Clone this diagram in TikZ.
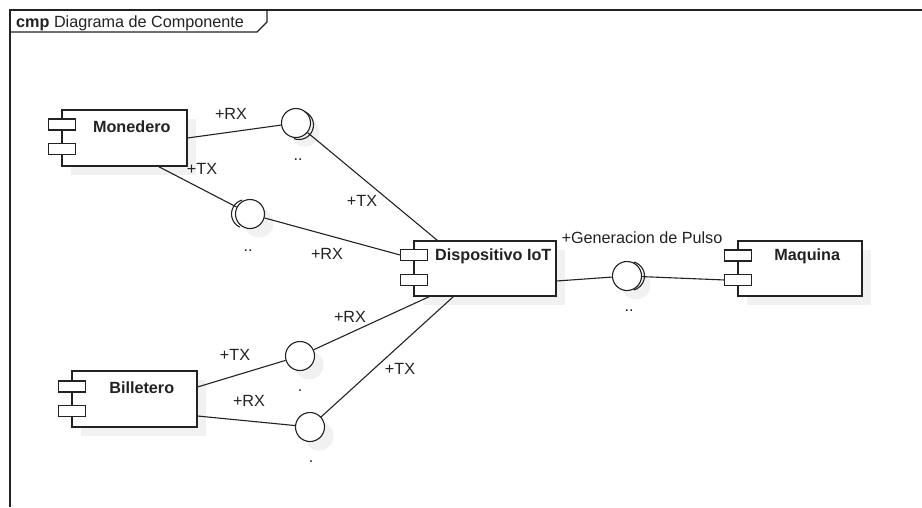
\documentclass[tikz,border=0pt]{standalone}
\usepackage{fontspec}
\setmainfont{Liberation Sans}
\usetikzlibrary{shadows,calc}
\definecolor{shade}{RGB}{241,241,241}
\definecolor{ink}{RGB}{34,34,34}

\begin{document}
\begin{tikzpicture}[x=1pt,y=-1pt,
  every node/.style={font=\fontsize{16.2}{19}\selectfont, inner sep=0pt, text=ink},
  comp/.style={rectangle, draw=ink, fill=white, line width=1.1pt,
    drop shadow={shadow xshift=9pt, shadow yshift=-9pt, fill=shade, opacity=1}},
  port/.style={rectangle, draw=ink, fill=white, line width=1.1pt,
    minimum width=27pt, minimum height=11pt},
  title/.style={font=\fontsize{16.2}{19}\selectfont\bfseries},
  ball/.style={circle, draw=ink, fill=white, line width=1.1pt, minimum size=29pt,
    drop shadow={shadow xshift=9pt, shadow yshift=-9pt, fill=shade, opacity=1}},
  link/.style={draw=ink, line width=1.1pt},
]
\useasboundingbox (0,0) rectangle (922,507);

% diagram frame with its name tab
\draw[link] (922,10) -- (10,10) -- (10,507);
\draw[link] (10,32) -- (257,32) -- (267,22) -- (267,10);
\node[anchor=base west] (frame-name) at (16,27) {\textbf{cmp} Diagrama de Componente};

% components
\node[comp, minimum width=125pt, minimum height=56pt] (mon) at (124.5,138) {};
\node[port] (mon-p1) at ($(mon.north west)+(0.5,15)$) {};
\node[port] (mon-p2) at ($(mon.north west)+(0.5,39.5)$) {};
\node[title] (mon-t) at ($(mon.north east)!0.5!(mon-p1.east |- mon.north)+(0,17)$) {Monedero};

\node[comp, minimum width=142pt, minimum height=55pt] (dev) at (485,268.5) {};
\node[port] (dev-p1) at ($(dev.north west)+(0.5,14.5)$) {};
\node[port] (dev-p2) at ($(dev.north west)+(0.5,39.5)$) {};
\node[title] (dev-t) at ($(dev.north east)!0.5!(dev-p1.east |- dev.north)+(1,16)$) {Dispositivo IoT};

\node[comp, minimum width=124pt, minimum height=55pt] (maq) at (800,268.5) {};
\node[port] (maq-p1) at ($(maq.north west)+(0.5,15)$) {};
\node[port] (maq-p2) at ($(maq.north west)+(0.5,39.5)$) {};
\node[title] (maq-t) at ($(maq.north east)!0.5!(maq-p1.east |- maq.north)+(0,16)$) {Maquina};

\node[comp, minimum width=125pt, minimum height=56pt] (bil) at (134.5,399) {};
\node[port] (bil-p1) at ($(bil.north west)+(0.5,16)$) {};
\node[port] (bil-p2) at ($(bil.north west)+(0.5,40.5)$) {};
\node[title] (bil-t) at ($(bil.north east)!0.5!(bil-p1.east |- bil.north)+(0,17)$) {Billetero};

% interfaces
\node[ball] (i1) at (296,123) {};
\node[ball] (i2) at (250,214) {};
\node[ball] (i3) at (627,276) {};
\node[ball] (i4) at (300,356) {};
\node[ball] (i5) at (310,427) {};

% socket arcs of the assembled interfaces
\draw[link] ($(i1.center)+(3,2)$) ++(70:14.5pt) arc[start angle=70, end angle=-110, radius=14.5pt];
\draw[link] ($(i2.center)+(-4,0)$) ++(105:14.5pt) arc[start angle=105, end angle=245, radius=14.5pt];
\draw[link] ($(i3.center)+(3,0)$) ++(75:14.5pt) arc[start angle=75, end angle=-75, radius=14.5pt];

% interface names
\node[anchor=base] (i1-n) at (298,160) {..};
\node[anchor=base] (i2-n) at (248,251) {..};
\node[anchor=base] (i3-n) at (629,311) {..};
\node[anchor=base] (i4-n) at (300,391) {.};
\node[anchor=base] (i5-n) at (311,462) {.};

% connectors
\draw[link] (mon.east) -- (i1);
\draw[link] ($(mon.south east)+(-29,0)$) -- (i2);
\draw[link] (i1) -- ($(dev.north west)+(24,0)$);
\draw[link] (i2) -- (dev-p1.west);
\draw[link] ($(dev.east)+(0,12.5)$) -- (i3);
\draw[link] (i3) -- (maq-p2.west);
\draw[link] ($(bil.east)+(0,-12)$) -- (i4);
\draw[link] ($(bil.east)+(0,17)$) -- (i5);
\draw[link] (i4) -- ($(dev.south west)+(16,0)$);
\draw[link] (i5) -- ($(dev.south west)+(40,0)$);

% port labels
\node (l1) at (231,114) {+RX};
\node (l2) at (202,169) {+TX};
\node (l3) at (362,201) {+TX};
\node (l4) at (327,254) {+RX};
\node (l5) at (642,238) {+Generacion de Pulso};
\node (l6) at (350,317) {+RX};
\node (l7) at (400,369) {+TX};
\node (l8) at (235,355) {+TX};
\node (l9) at (249,401) {+RX};
\end{tikzpicture}
\end{document}
